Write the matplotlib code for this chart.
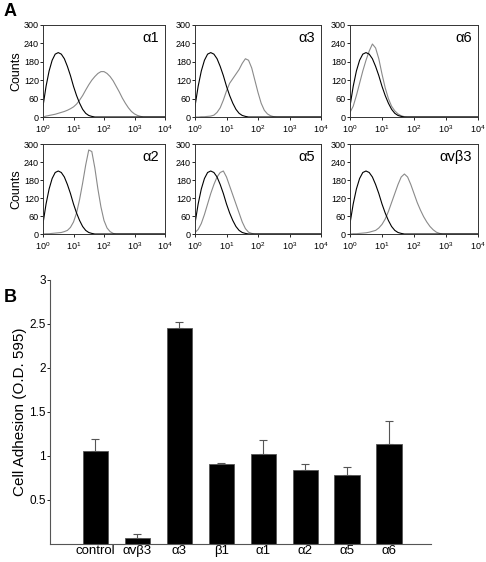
import matplotlib.pyplot as plt
import numpy as np

plt.rcParams['font.family'] = ['Liberation Sans', 'DejaVu Sans']
plt.rcParams['mathtext.fontset'] = 'custom'
plt.rcParams['mathtext.rm'] = 'Liberation Sans'
plt.rcParams['mathtext.it'] = 'Liberation Sans:italic'

# --- Panel A: flow cytometry histograms (counts vs. log10 fluorescence, step 0.1 decade) ---
log_fl = [round(0.1 * i, 1) for i in range(41)]

control_counts = [35, 100, 150, 185, 205, 210, 205, 190, 165, 135, 100, 70, 45, 25, 12, 5, 2, 0]

a1_counts = [0, 3, 5, 7, 9, 12, 15, 18, 22, 27, 33, 42, 55, 70, 88, 105, 120, 132, 142, 148,
             148, 142, 132, 118, 100, 82, 62, 45, 30, 18, 10, 5, 2, 0]
a3_counts = [0, 0, 1, 1, 2, 3, 6, 15, 30, 55, 85, 110, 125, 140, 155, 175, 190, 185, 160, 120,
             80, 45, 22, 10, 4, 1, 0]
a6_counts = [15, 35, 70, 110, 150, 185, 215, 238, 225, 190, 140, 95, 60, 35, 20, 10, 4, 1, 0]
a2_counts = [0, 1, 1, 2, 3, 4, 5, 8, 12, 22, 40, 70, 115, 170, 230, 280, 275, 220, 150, 90,
             45, 20, 8, 2, 0]
a5_counts = [5, 15, 35, 65, 100, 135, 165, 190, 205, 210, 190, 160, 130, 100, 70, 40, 18, 6, 2, 0]
avb3_counts = [0, 1, 1, 2, 3, 4, 6, 9, 12, 20, 32, 50, 75, 105, 135, 165, 190, 200, 190, 165,
               135, 105, 80, 58, 40, 25, 14, 6, 2, 0]

hist_names = ['α1', 'α3', 'α6', 'α2', 'α5', 'αvβ3']
hist_series = [a1_counts, a3_counts, a6_counts, a2_counts, a5_counts, avb3_counts]

# --- Panel B: cell adhesion ---
groups = ['control', 'αvβ3', 'α3', 'β1', 'α1', 'α2', 'α5', 'α6']
adhesion = [1.06, 0.065, 2.46, 0.905, 1.02, 0.84, 0.78, 1.14]
adhesion_err = [0.13, 0.045, 0.06, 0.02, 0.16, 0.065, 0.10, 0.26]


def pad(vals, n):
    return list(vals) + [0] * (n - len(vals))


W, H = 486, 562
fig = plt.figure(figsize=(W / 100, H / 100), dpi=100)

cols = [(43, 122), (195, 126), (350, 128)]
rows = [(25, 92), (144, 90)]
x_grid = 10 ** np.array(log_fl)
ctrl = pad(control_counts, len(log_fl))

for i, (name, vals) in enumerate(zip(hist_names, hist_series)):
    r, c = divmod(i, 3)
    left, w = cols[c]
    top, h = rows[r]
    ax = fig.add_axes([left / W, 1 - (top + h) / H, w / W, h / H])
    ax.plot(x_grid, pad(vals, len(log_fl)), color='#8a8a8a', lw=0.8)
    ax.plot(x_grid, ctrl, color='black', lw=0.8)
    ax.set_xscale('log')
    ax.set_xlim(1, 1e4)
    ax.set_ylim(0, 300)
    ax.set_yticks([0, 60, 120, 180, 240, 300])
    ax.set_xticks([1, 10, 100, 1000, 10000])
    ax.tick_params(axis='y', labelsize=6.5, length=2, width=0.6, pad=1)
    ax.tick_params(axis='x', labelsize=6.5, length=2, width=0.6, pad=2.5)
    ax.tick_params(which='minor', length=1.2, width=0.4)
    for s in ax.spines.values():
        s.set_linewidth(0.7)
        s.set_color('#333333')
    ax.text(0.95, 0.93, name, transform=ax.transAxes, ha='right', va='top', fontsize=10.5)
    if c == 0:
        ax.set_ylabel('Counts', fontsize=9, labelpad=1)

fig.text(4 / W, 1 - 12 / H, 'A', fontsize=13, fontweight='bold', va='center')
fig.text(4 / W, 1 - 298 / H, 'B', fontsize=13, fontweight='bold', va='center')

# bar chart
axb = fig.add_axes([50 / W, 1 - 544 / H, 381 / W, 264 / H])
pos = np.arange(len(groups))
axb.bar(pos, adhesion, width=0.6, color='black', edgecolor='#555555', linewidth=0.6,
        yerr=[np.zeros(len(groups)), adhesion_err], capsize=3,
        error_kw=dict(ecolor='#555555', elinewidth=0.8, capthick=0.8))
axb.set_xlim(-1.08, 8.0)
axb.set_ylim(0, 3)
axb.set_yticks([0.5, 1, 1.5, 2, 2.5, 3])
axb.set_yticklabels(['0.5', '1', '1.5', '2', '2.5', '3'])
axb.set_xticks(pos)
axb.set_xticklabels(groups)
axb.tick_params(axis='y', labelsize=8.5, length=2, width=0.6, pad=1)
axb.tick_params(axis='x', labelsize=9.5, length=0, pad=1)
axb.spines['top'].set_visible(False)
axb.spines['right'].set_visible(False)
for s in ('left', 'bottom'):
    axb.spines[s].set_color('#555555')
    axb.spines[s].set_linewidth(0.8)
axb.set_ylabel('Cell Adhesion (O.D. 595)', fontsize=11, labelpad=2)

plt.savefig('out.png', dpi=100)
